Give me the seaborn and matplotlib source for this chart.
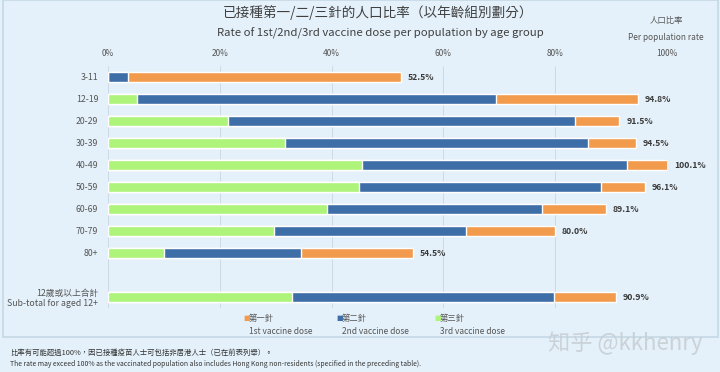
import matplotlib
matplotlib.use("Agg")
import matplotlib.pyplot as plt
from matplotlib.patches import Rectangle
import seaborn as sns
import pandas as pd

groups = ["3-11", "12-19", "20-29", "30-39", "40-49", "50-59", "60-69", "70-79", "80+",
          "12歲或以上合計\nSub-total for aged 12+"]
dose1 = [52.5, 94.8, 91.5, 94.5, 100.1, 96.1, 89.1, 80.0, 54.5, 90.9]
dose2 = [3.5, 69.4, 83.5, 85.9, 92.9, 88.2, 77.6, 64.0, 34.5, 79.8]
dose3 = [0.0, 5.1, 21.4, 31.7, 45.4, 44.9, 39.1, 29.7, 10.0, 33.0]
ticks = [0, 20, 40, 60, 80, 100]

bg = "#e4f1fa"
c1, c2, c3 = "#f29b4c", "#3d6ea8", "#aef37a"

sns.set_theme(style="white")
plt.rcParams["font.family"] = ["Noto Sans CJK TC", "DejaVu Sans"]

df = pd.DataFrame({"group": groups, "d1": dose1, "d2": dose2, "d3": dose3})
order = groups[:9] + [" "] + groups[9:]

fig = plt.figure(figsize=(7.2, 3.72), dpi=100, facecolor=bg)
fig.patches.append(Rectangle((3 / 720, 1 - 337 / 372), 715 / 720, 337 / 372, transform=fig.transFigure,
                             facecolor=bg, edgecolor="#c6d8e6", lw=1.2, zorder=-5))
ax = fig.add_axes([108 / 720, 1 - 308 / 372, 559 / 720, 242 / 372])
ax.set_facecolor("none")

# stacked look: total (1st dose) underneath, then 2nd, then 3rd on top
sns.barplot(data=df, x="d1", y="group", order=order, color=c1, width=0.42, orient="h", ax=ax,
            saturation=1, zorder=3)
sns.barplot(data=df, x="d2", y="group", order=order, color=c2, width=0.42, orient="h", ax=ax,
            saturation=1, zorder=3)
sns.barplot(data=df, x="d3", y="group", order=order, color=c3, width=0.42, orient="h", ax=ax,
            saturation=1, zorder=3)

for i, g in enumerate(groups):
    pos = order.index(g)
    ax.text(dose1[i] + 1.2, pos, f"{dose1[i]:.1f}%", va="center", ha="left", fontsize=6.2,
            fontweight="bold", color="#3a3a3a")

ax.set_xlim(0, 100)
ax.set_xticks(ticks)
ax.set_xticklabels([f"{t}%" for t in ticks], fontsize=6, color="#555555")
ax.xaxis.tick_top()
ax.tick_params(axis="x", length=0, pad=6)
ax.tick_params(axis="y", length=0, pad=7, labelsize=6.3, labelcolor="#555555")
ax.set_xlabel("")
ax.set_ylabel("")
ax.grid(axis="x", color="#cdd9e3", lw=0.7, zorder=0)
for s in ax.spines.values():
    s.set_visible(False)

fig.text(378 / 720, 1 - 13 / 372, "已接種第一/二/三針的人口比率（以年齡組別劃分）", ha="center", va="center",
         fontsize=9.8, color="#404040")
fig.text(380 / 720, 1 - 33 / 372, "Rate of 1st/2nd/3rd vaccine dose per population by age group",
         ha="center", va="center", fontsize=8.2, color="#404040")
fig.text(666 / 720, 1 - 21 / 372, "人口比率", ha="center", va="center", fontsize=6, color="#555555")
fig.text(666 / 720, 1 - 38 / 372, "Per population rate", ha="center", va="center", fontsize=6,
         color="#555555")

legend = [(243, "第一針", "1st vaccine dose", c1), (336, "第二針", "2nd vaccine dose", c2),
          (434, "第三針", "3rd vaccine dose", c3)]
for x, zh, en, c in legend:
    fig.text(x / 720, 1 - 318 / 372, "■", ha="left", va="center", fontsize=5, color=c,
             family="DejaVu Sans")
    fig.text((x + 6) / 720, 1 - 318 / 372, zh, ha="left", va="center", fontsize=6, color="#555555")
    fig.text((x + 6) / 720, 1 - 331 / 372, en, ha="left", va="center", fontsize=6, color="#555555")

fig.text(10 / 720, 1 - 353 / 372, "比率有可能超過100%，因已接種疫苗人士可包括非居港人士（已在前表列舉）。", ha="left",
         va="center", fontsize=5.3, color="#333333")
fig.text(10 / 720, 1 - 364 / 372,
         "The rate may exceed 100% as the vaccinated population also includes Hong Kong non-residents "
         "(specified in the preceding table).", ha="left", va="center", fontsize=4.9, color="#333333")
fig.text(703 / 720, 1 - 343 / 372, "知乎 @kkhenry", ha="right", va="center", fontsize=16, color="#c8ced4",
         alpha=0.9)

fig.savefig("out.png", dpi=100, facecolor=bg)
